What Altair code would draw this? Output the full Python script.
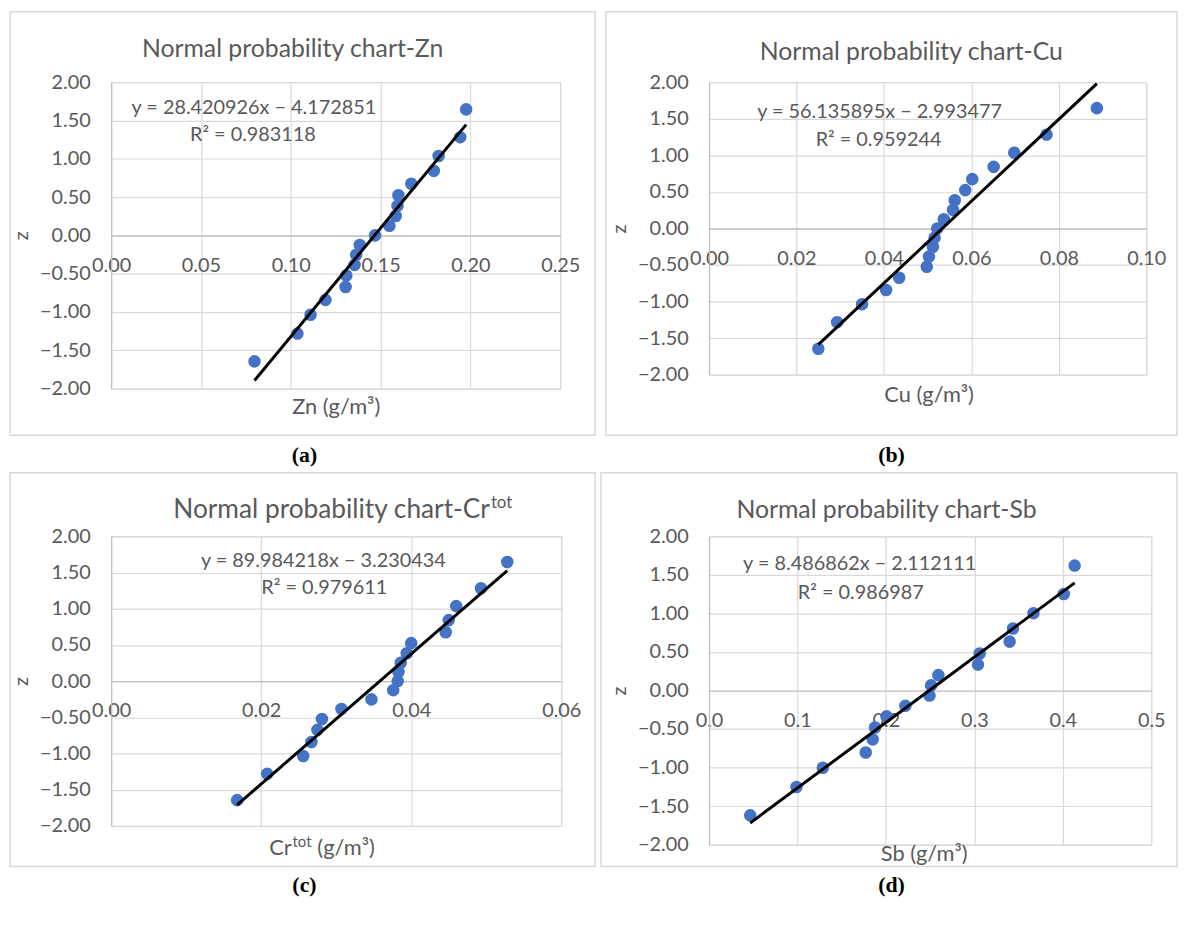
import altair as alt
import pandas as pd

# ---- data ----
Z_19 = [-1.645, -1.282, -1.036, -0.842, -0.674, -0.524, -0.385, -0.253, -0.126, 0.0,
        0.126, 0.253, 0.385, 0.524, 0.674, 0.842, 1.036, 1.282, 1.645]
Z_18 = [-1.620, -1.252, -1.003, -0.804, -0.634, -0.480, -0.336, -0.199, -0.066,
        0.066, 0.199, 0.336, 0.480, 0.634, 0.804, 1.003, 1.252, 1.620]

ZN = [0.0798, 0.1037, 0.1110, 0.1193, 0.1305, 0.1309, 0.1355, 0.1364, 0.1384, 0.1469,
      0.1549, 0.1584, 0.1594, 0.1599, 0.1671, 0.1796, 0.1823, 0.1943, 0.1976]
CU = [0.0250, 0.0293, 0.0350, 0.0405, 0.0435, 0.0498, 0.0503, 0.0512, 0.0516, 0.0522,
      0.0537, 0.0558, 0.0562, 0.0586, 0.0602, 0.0651, 0.0698, 0.0772, 0.0887]
CR = [0.0168, 0.0208, 0.0256, 0.0267, 0.0275, 0.0281, 0.0307, 0.0347, 0.0376, 0.0382,
      0.0383, 0.0386, 0.0394, 0.0400, 0.0446, 0.0450, 0.0460, 0.0493, 0.0528]
SB = [0.0466, 0.0989, 0.1287, 0.1772, 0.1851, 0.1877, 0.2007, 0.2220, 0.2493,
      0.2511, 0.2593, 0.3041, 0.3060, 0.3399, 0.3437, 0.3668, 0.4011, 0.4134]

Y_TICKS = [-2.0, -1.5, -1.0, -0.5, 0.0, 0.5, 1.0, 1.5, 2.0]
ZN_TICKS = [0.0, 0.05, 0.10, 0.15, 0.20, 0.25]
CU_TICKS = [0.0, 0.02, 0.04, 0.06, 0.08, 0.10]
CR_TICKS = [0.0, 0.02, 0.04, 0.06]
SB_TICKS = [0.0, 0.1, 0.2, 0.3, 0.4, 0.5]

TITLES = ["Normal probability chart-Zn", "Normal probability chart-Cu",
          "Normal probability chart-Cr", "Normal probability chart-Sb"]
EQUATIONS = ["y = 28.420926x − 4.172851", "y = 56.135895x − 2.993477",
             "y = 89.984218x − 3.230434", "y = 8.486862x − 2.112111"]
R2_TEXT = ["R² = 0.983118", "R² = 0.959244", "R² = 0.979611", "R² = 0.986987"]
X_TITLES = ["Zn (g/m³)", "Cu (g/m³)", "Cr", "Sb (g/m³)"]
CR_SUP = "tot"
CR_UNIT = "(g/m³)"
CAPTIONS = ["(a)", "(b)", "(c)", "(d)"]

# ---- styling / layout ----
FONT = "Lato"
GREY = "#595959"
GRID = "#d9d9d9"
AXISLINE = "#bfbfbf"
BLUE = "#4472C4"

COL_X = [110, 713]          # page x of the plot areas' left edges
ROW_Y = [82, 535]           # page y of the plot areas' top edges
COL_W = 454
ROW_H = 309
ROW_FIX = 5                 # empirical correction of the grid's row placement

PANELS = [
    dict(xs=ZN, zs=Z_19, ticks=ZN_TICKS, fmt=".2f", W=453, H=309, col=0, row=0,
         border=(8, 11, 598, 438), title=(293, 49), eq=(254, 108), r2=(253, 135),
         xt=(337, 410), cap=(305, 458)),
    dict(xs=CU, zs=Z_19, ticks=CU_TICKS, fmt=".2f", W=441, H=295, col=1, row=0,
         border=(609, 11, 1185, 438), title=(917, 52), eq=(885, 112), r2=(884, 140),
         xt=(935, 398), cap=(897, 458)),
    dict(xs=CR, zs=Z_19, ticks=CR_TICKS, fmt=".2f", W=454, H=292, col=0, row=1,
         border=(8, 471, 598, 868), title=(492, 509), eq=(324, 560), r2=(325, 587),
         xt=(292, 849), cap=(305, 887)),
    dict(xs=SB, zs=Z_18, ticks=SB_TICKS, fmt=".1f", W=446, H=311, col=1, row=1,
         border=(604, 471, 1185, 868), title=(892, 509), eq=(865, 563), r2=(866, 592),
         xt=(930, 855), cap=(897, 887)),
]


def text_layer(txt, pos, ox, oy, size=20, color=GREY, font=FONT, weight="normal",
               align="center"):
    return alt.Chart(pd.DataFrame({"t": [txt]})).mark_text(
        font=font, fontSize=size, color=color, fontWeight=weight,
        align=align, baseline="middle"
    ).encode(x=alt.value(pos[0] - ox), y=alt.value(pos[1] - oy), text="t:N")


def make_panel(i, p):
    ox, oy = COL_X[p["col"]], ROW_Y[p["row"]]
    W, H = p["W"], p["H"]
    df = pd.DataFrame({"x": p["xs"], "z": p["zs"]})
    xscale = alt.Scale(domain=[p["ticks"][0], p["ticks"][-1]], nice=False, zero=False)
    yscale = alt.Scale(domain=[-2, 2], nice=False)
    xaxis = alt.Axis(values=p["ticks"], tickCount=len(p["ticks"]), format=p["fmt"],
                     offset=-H / 2, title=None,
                     grid=True, gridColor=GRID, gridWidth=1.2, domainColor=AXISLINE,
                     domainWidth=1.2, ticks=False, tickSize=0, labelPadding=20,
                     labelFont=FONT, labelFontSize=20, labelColor=GREY,
                     labelOverlap=False, labelFlush=False, labelBound=False)
    yaxis = alt.Axis(values=Y_TICKS, tickCount=len(Y_TICKS), format=".2f", title="z",
                     grid=True, gridColor=GRID,
                     gridWidth=1.2, domainColor=AXISLINE, domainWidth=1.2, ticks=False,
                     tickSize=0, labelPadding=21, labelFont=FONT, labelFontSize=20,
                     labelColor=GREY, labelOverlap=False, labelFlush=False,
                     labelBound=False, titleFont=FONT, titleFontSize=20,
                     titleFontWeight="normal", titleColor=GREY, titlePadding=8)

    b = p["border"]
    border = alt.Chart(pd.DataFrame({"k": [0]})).mark_rect(
        fillOpacity=0, stroke=GRID, strokeWidth=1.5
    ).encode(x=alt.value(b[0] - ox), x2=alt.value(b[2] - ox),
             y=alt.value(b[1] - oy), y2=alt.value(b[3] - oy))

    pts = alt.Chart(df).mark_circle(size=160, color=BLUE, opacity=1).encode(
        x=alt.X("x:Q", scale=xscale, axis=xaxis),
        y=alt.Y("z:Q", scale=yscale, axis=yaxis),
    )
    trend = alt.Chart(df).transform_regression("x", "z").mark_line(
        color="black", strokeWidth=3
    ).encode(x="x:Q", y="z:Q")

    layers = [border, pts, trend]
    if i == 2:
        tx, ty = p["title"]
        layers += [
            text_layer(TITLES[i], (tx, ty), ox, oy, size=26.5, align="right"),
            text_layer(CR_SUP, (tx + 1, ty - 8), ox, oy, size=17, align="left"),
        ]
        xx, xy = p["xt"]
        layers += [
            text_layer(X_TITLES[i], (xx, xy), ox, oy, size=22, align="right"),
            text_layer(CR_SUP, (xx + 1, xy - 6), ox, oy, size=15, align="left"),
            text_layer(CR_UNIT, (xx + 26, xy), ox, oy, size=22, align="left"),
        ]
    else:
        layers += [
            text_layer(TITLES[i], p["title"], ox, oy, size=25),
            text_layer(X_TITLES[i], p["xt"], ox, oy, size=22),
        ]
    layers += [
        text_layer(EQUATIONS[i], p["eq"], ox, oy, size=20),
        text_layer(R2_TEXT[i], p["r2"], ox, oy, size=20),
        text_layer(CAPTIONS[i], p["cap"], ox, oy, size=22, color="black",
                   font="Liberation Serif", weight="bold"),
    ]
    return alt.layer(*layers).properties(width=W, height=H)


charts = [make_panel(i, p) for i, p in enumerate(PANELS)]

chart = alt.concat(
    *charts, columns=2,
    spacing={"row": ROW_Y[1] - ROW_Y[0] - ROW_H + ROW_FIX,
             "column": COL_X[1] - COL_X[0] - COL_W},
    bounds="flush", align="each",
).properties(
    padding={"left": 0, "top": -2, "right": 0, "bottom": 0},
).configure_view(stroke=None).configure(background="white")

chart.save("out.html", embed_options={"renderer": "svg", "actions": False})
